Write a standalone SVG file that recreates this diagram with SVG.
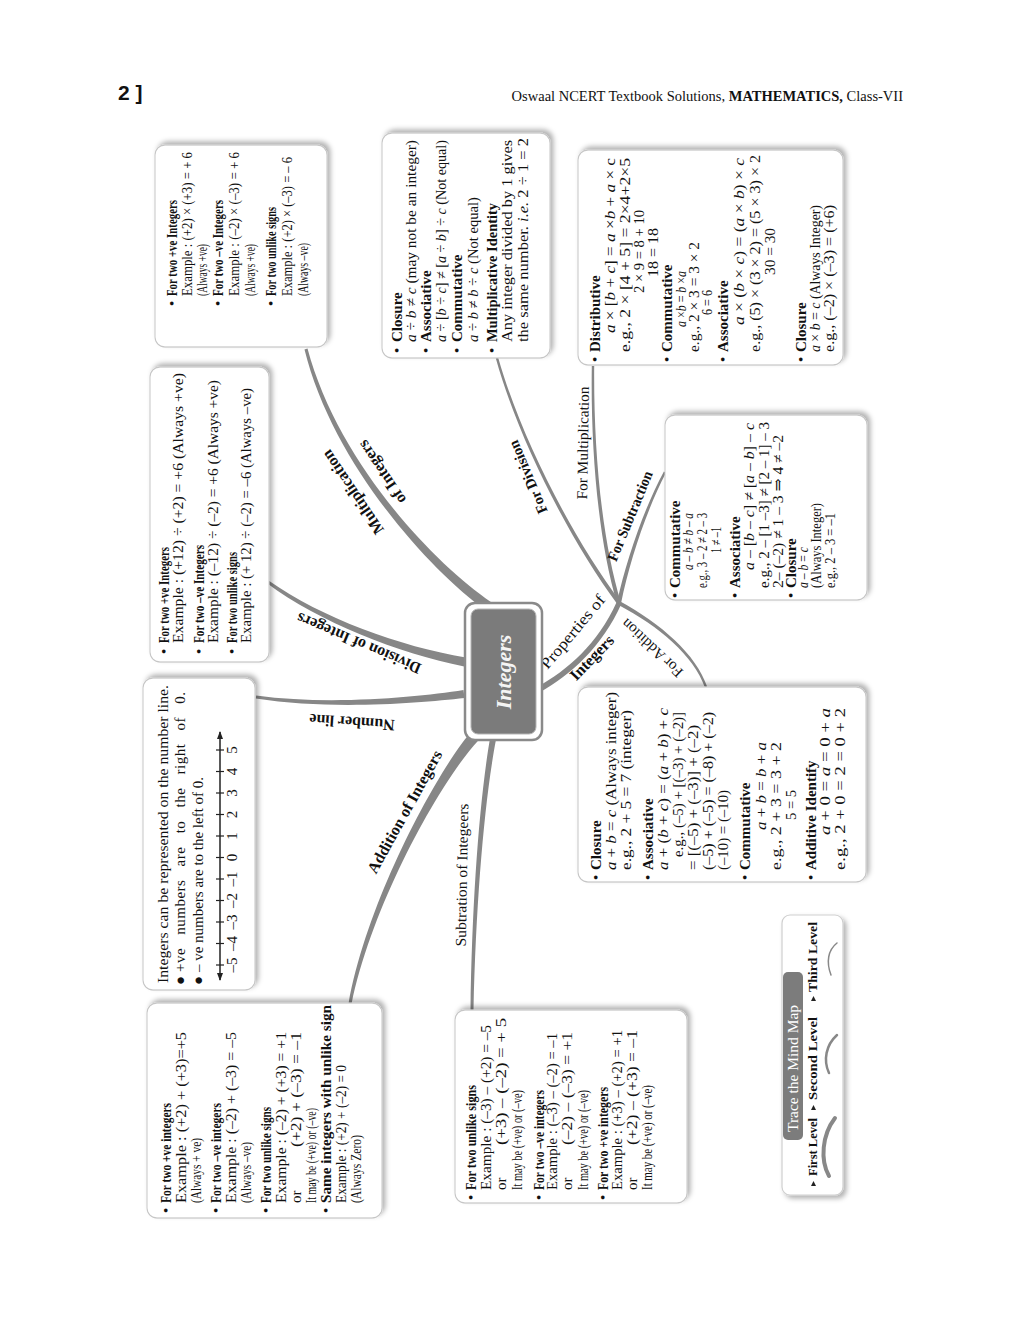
<svg xmlns="http://www.w3.org/2000/svg" width="1024" height="1321" viewBox="0 0 1024 1321">
<defs>
<style>
text{font-family:"Liberation Serif","DejaVu Serif",serif;fill:#111}
.b{font-weight:bold}
.i{font-style:italic}
.box{fill:#fff;stroke:#c6c6c6;stroke-width:1.2;filter:url(#sh)}
.con{fill:#878787}
.lbl{font-weight:bold;font-size:16px;text-anchor:middle}
.lr{font-size:15px;text-anchor:middle}
.f13 text{font-size:15px}
.f135 text{font-size:15px}
.f14 text{font-size:15px}
</style>
<filter id="sh" x="-10%" y="-10%" width="125%" height="125%"><feDropShadow dx="3" dy="3" stdDeviation="2.5" flood-color="#000" flood-opacity="0.3"/></filter>
<marker id="arr" viewBox="0 0 8 6" refX="7" refY="3" markerWidth="8" markerHeight="6" markerUnits="userSpaceOnUse" orient="auto-start-reverse"><path d="M0,0 L8,3 L0,6 z" fill="#222"/></marker>
</defs>
<rect width="1024" height="1321" fill="#fff"/>

<g id="header">
<text x="118" y="100" style="font-family:'Liberation Sans',Arial,sans-serif;font-weight:bold;font-size:21px">2 ]</text>
<text x="903" y="101" text-anchor="end" style="font-size:14.5px">Oswaal NCERT Textbook Solutions, <tspan class="b">MATHEMATICS,</tspan> Class-VII</text>
</g>

<g id="connectors">
<path class="con" d="M490.9,601.9 C432.2,561.9 337.6,461.3 307.5,348.6 L304.5,349.4 C332.4,462.7 427.8,568.1 485.1,610.1 Z"/>
<path class="con" d="M465.8,657.6 C400.6,646.6 321.5,618 268.9,580.8 L267.1,583.2 C318.5,622 399.4,653.4 464.2,666.4 Z"/>
<path class="con" d="M463.5,690 C419.6,696.9 330.3,705.7 256.2,695.5 L255.8,698.5 C329.7,710.3 420.4,703.1 464.5,698 Z"/>
<path class="con" d="M469.9,733.3 C436.9,772.2 367.2,899.5 348.5,1003.7 L351.5,1004.3 C372.8,900.5 443.1,777.8 478.1,740.7 Z"/>
<path class="con" d="M490,738.5 C479.5,799.6 472,900 470.5,1010 L473.5,1010 C476,900 484.5,800.4 496,739.5 Z"/>
<path class="con" d="M539.5,692.6 C571.4,674.5 602.4,646.1 621.3,604 L616.7,602 C597.6,643.9 568.6,669.5 536.5,687.4 Z"/>
<path class="con" d="M620.6,601.8 C573.4,539 521.4,439.6 498.2,357.7 L495.8,358.3 C518.6,440.4 570.6,541 617.4,604.2 Z"/>
<path class="con" d="M620.9,602.4 C601.7,539.5 593.5,450 594.2,366 L591.8,366 C590.5,450 598.3,540.5 617.1,603.6 Z"/>
<path class="con" d="M621,603.4 C629.7,560.4 646.3,510.7 666.1,472.6 L663.9,471.4 C643.7,509.3 626.3,559.6 617,602.6 Z"/>
<path class="con" d="M618.1,604.8 C659.2,626.5 693.6,655.5 704.9,687.4 L707.1,686.6 C696.4,654.5 660.8,623.5 619.9,601.2 Z"/>

<text class="lbl" transform="translate(353,492) rotate(-124)" y="5">Multiplication</text>
<text class="lbl" transform="translate(382,472) rotate(-124)" y="5">of Integers</text>
<text class="lbl" transform="translate(359,643) rotate(203)" y="5">Division of Integers</text>
<text class="lbl" transform="translate(352,722) rotate(184)" y="5">Number line</text>
<text class="lbl" transform="translate(405,812) rotate(-61)" y="5">Addition of Integers</text>
<text class="lr" transform="translate(462,875) rotate(-89)" y="5" textLength="143" lengthAdjust="spacingAndGlyphs">Subtration of Integeers</text>
<text class="lr" style="font-size:16px" transform="translate(573,632) rotate(-50)" y="5" textLength="91" lengthAdjust="spacingAndGlyphs">Properties of</text>
<text class="lbl" transform="translate(592,658) rotate(-46)" y="5">Integers</text>
<text class="lbl" style="font-size:15px" transform="translate(528,477) rotate(-113)" y="5" textLength="78" lengthAdjust="spacingAndGlyphs">For Division</text>
<text class="lr" transform="translate(583,443) rotate(-89)" y="5" textLength="113" lengthAdjust="spacingAndGlyphs">For Multiplication</text>
<text class="lbl" style="font-size:15px" transform="translate(630,516) rotate(-67.5)" y="5" textLength="96" lengthAdjust="spacingAndGlyphs">For Subtraction</text>
<text class="lr" transform="translate(652,648) rotate(223)" y="5" textLength="78" lengthAdjust="spacingAndGlyphs">For Addition</text>
</g>

<g id="center">
<rect x="465" y="603" width="77" height="137" rx="10" fill="#fff" stroke="#8a8a8a" stroke-width="2.5"/>
<rect x="471" y="609" width="65" height="125" rx="7" fill="#7b7b7b" stroke="#b5b5b5" stroke-width="1"/>
<text transform="translate(504,672) rotate(-90)" y="7" text-anchor="middle" style="font-size:22px;font-weight:bold;font-style:italic;fill:#f4f4f4">Integers</text>
</g>

<g id="mult-examples" class="f13" transform="translate(155,347) rotate(-90)">
<rect class="box" x="0" y="0" width="202" height="172" rx="10"/>
<text x="41" y="22">•</text><text x="51" y="22" class="b" textLength="96" lengthAdjust="spacingAndGlyphs">For two +ve Integers</text>
<text x="51" y="37" textLength="144" lengthAdjust="spacingAndGlyphs">Example : (+2) × (+3) = + 6</text>
<text x="51" y="52" textLength="52" lengthAdjust="spacingAndGlyphs">(Always +ve)</text>
<text x="41" y="68">•</text><text x="51" y="68" class="b" textLength="96" lengthAdjust="spacingAndGlyphs">For two –ve Integers</text>
<text x="51" y="84" textLength="144" lengthAdjust="spacingAndGlyphs">Example : (–2) × (–3) = + 6</text>
<text x="51" y="100" textLength="52" lengthAdjust="spacingAndGlyphs">(Always +ve)</text>
<text x="41" y="121">•</text><text x="51" y="121" class="b" textLength="89" lengthAdjust="spacingAndGlyphs">For two unlike signs</text>
<text x="51" y="137" textLength="139" lengthAdjust="spacingAndGlyphs">Example : (+2) × (–3) = – 6</text>
<text x="51" y="153" textLength="53" lengthAdjust="spacingAndGlyphs">(Always –ve)</text>
</g>

<g id="div-examples" class="f13" transform="translate(150,662) rotate(-90)">
<rect class="box" x="0" y="0" width="295" height="119" rx="10"/>
<text x="8" y="19">•</text><text x="19" y="19" class="b" textLength="96" lengthAdjust="spacingAndGlyphs">For two +ve Integers</text>
<text x="19" y="33" textLength="270" lengthAdjust="spacingAndGlyphs">Example : (+12) ÷ (+2)  =  +6 (Always +ve)</text>
<text x="8" y="54">•</text><text x="19" y="54" class="b" textLength="98" lengthAdjust="spacingAndGlyphs">For two –ve Integers</text>
<text x="19" y="68" textLength="263" lengthAdjust="spacingAndGlyphs">Example : (–12) ÷ (–2)  =  +6 (Always +ve)</text>
<text x="8" y="87">•</text><text x="19" y="87" class="b" textLength="91" lengthAdjust="spacingAndGlyphs">For two unlike signs</text>
<text x="19" y="101" textLength="255" lengthAdjust="spacingAndGlyphs">Example : (+ 12) ÷ (–2)  =  –6 (Always –ve)</text>
</g>

<g id="number-line" class="f135" transform="translate(143,990) rotate(-90)">
<rect class="box" x="0" y="0" width="312" height="112" rx="10"/>
<text x="7" y="25" textLength="298" lengthAdjust="spacingAndGlyphs">Integers can be represented on the number line.</text>
<text x="5" y="42">●</text><text x="18" y="42" textLength="280" lengthAdjust="spacing" word-spacing="9">+ve numbers are to the right of 0.</text>
<text x="5" y="60">●</text><text x="18" y="60" textLength="195" lengthAdjust="spacingAndGlyphs">– ve numbers are to the left of 0.</text>
<line x1="10" y1="77" x2="258" y2="77" stroke="#222" stroke-width="1.5" marker-start="url(#arr)" marker-end="url(#arr)"/>
<g stroke="#222" stroke-width="1.2">
<line x1="25" y1="73" x2="25" y2="81"/><line x1="46.5" y1="73" x2="46.5" y2="81"/><line x1="68" y1="73" x2="68" y2="81"/><line x1="89.5" y1="73" x2="89.5" y2="81"/><line x1="111" y1="73" x2="111" y2="81"/><line x1="132.5" y1="73" x2="132.5" y2="81"/><line x1="154" y1="73" x2="154" y2="81"/><line x1="175.5" y1="73" x2="175.5" y2="81"/><line x1="197" y1="73" x2="197" y2="81"/><line x1="218.5" y1="73" x2="218.5" y2="81"/><line x1="240" y1="73" x2="240" y2="81"/>
</g>
<g text-anchor="middle">
<text x="25" y="94">–5</text><text x="46.5" y="94">–4</text><text x="68" y="94">–3</text><text x="89.5" y="94">–2</text><text x="111" y="94">–1</text><text x="132.5" y="94">0</text><text x="154" y="94">1</text><text x="175.5" y="94">2</text><text x="197" y="94">3</text><text x="218.5" y="94">4</text><text x="240" y="94">5</text>
</g>
</g>

<g id="add-examples" class="f13" transform="translate(147,1218) rotate(-90)">
<rect class="box" x="0" y="0" width="215" height="235" rx="10"/>
<text x="5" y="24">•</text><text x="15" y="24" class="b" textLength="100" lengthAdjust="spacingAndGlyphs">For two +ve integers</text>
<text x="15" y="39" textLength="171" lengthAdjust="spacingAndGlyphs">Example : (+2) + (+3)=+5</text>
<text x="15" y="54" textLength="65" lengthAdjust="spacingAndGlyphs">(Always + ve)</text>
<text x="5" y="74">•</text><text x="15" y="74" class="b" textLength="100" lengthAdjust="spacingAndGlyphs">For two –ve integers</text>
<text x="15" y="89" textLength="171" lengthAdjust="spacingAndGlyphs">Example : (–2) + (–3)  =  –5</text>
<text x="15" y="104" textLength="61" lengthAdjust="spacingAndGlyphs">(Always –ve)</text>
<text x="5" y="124">•</text><text x="15" y="124" class="b" textLength="96" lengthAdjust="spacingAndGlyphs">For two unlike signs</text>
<text x="15" y="139" textLength="171" lengthAdjust="spacingAndGlyphs">Example : (–2) + (+3)  =  +1</text>
<text x="15" y="154">or</text><text x="71" y="154" textLength="115" lengthAdjust="spacingAndGlyphs">(+2) + (–3)  =  –1</text>
<text x="15" y="169" textLength="95" lengthAdjust="spacingAndGlyphs">It may be (+ve) or (–ve)</text>
<text x="5" y="184">•</text><text x="15" y="184" class="b" textLength="198" lengthAdjust="spacingAndGlyphs">Same integers with unlike sign</text>
<text x="15" y="199" textLength="138" lengthAdjust="spacingAndGlyphs">Example : (+2) + (–2) = 0</text>
<text x="15" y="214" textLength="68" lengthAdjust="spacingAndGlyphs">(Always Zero)</text>
</g>

<g id="sub-examples" class="f13" transform="translate(455,1203) rotate(-90)">
<rect class="box" x="0" y="0" width="193" height="232" rx="10"/>
<text x="3" y="21">•</text><text x="13" y="21" class="b" textLength="105" lengthAdjust="spacingAndGlyphs">For two unlike signs</text>
<text x="13" y="36" textLength="165" lengthAdjust="spacingAndGlyphs">Example : (–3) – (+2)  =  –5</text>
<text x="13" y="51">or</text><text x="58" y="51" textLength="127" lengthAdjust="spacingAndGlyphs">(+3) – (–2)  =  + 5</text>
<text x="13" y="67" textLength="100" lengthAdjust="spacingAndGlyphs">It may be (+ve) or (–ve)</text>
<text x="3" y="89">•</text><text x="13" y="89" class="b" textLength="100" lengthAdjust="spacingAndGlyphs">For two –ve integers</text>
<text x="13" y="102" textLength="157" lengthAdjust="spacingAndGlyphs">Example : (–3) – (–2) = –1</text>
<text x="13" y="117">or</text><text x="58" y="117" textLength="113" lengthAdjust="spacingAndGlyphs">(–2) – (–3)  =  +1</text>
<text x="13" y="133" textLength="100" lengthAdjust="spacingAndGlyphs">It may be (+ve) or (–ve)</text>
<text x="3" y="153">•</text><text x="13" y="153" class="b" textLength="103" lengthAdjust="spacingAndGlyphs">For two +ve integers</text>
<text x="13" y="167" textLength="160" lengthAdjust="spacingAndGlyphs">Example : (+3) – (+2)  =  +1</text>
<text x="13" y="182">or</text><text x="58" y="182" textLength="115" lengthAdjust="spacingAndGlyphs">(+2) – (+3)  =  –1</text>
<text x="13" y="197" textLength="105" lengthAdjust="spacingAndGlyphs">It may be (+ve) or (–ve)</text>
</g>

<g id="div-properties" class="f14" transform="translate(382,358) rotate(-90)">
<rect class="box" x="0" y="0" width="225" height="168" rx="10"/>
<text x="5" y="20">•</text><text x="16" y="20" class="b">Closure</text>
<text x="16" y="34" textLength="202" lengthAdjust="spacingAndGlyphs"><tspan class="i">a</tspan> ÷ <tspan class="i">b</tspan> ≠ <tspan class="i">c</tspan> (may not be an integer)</text>
<text x="5" y="49">•</text><text x="16" y="49" class="b">Associative</text>
<text x="16" y="64" textLength="202" lengthAdjust="spacingAndGlyphs"><tspan class="i">a</tspan> ÷ [<tspan class="i">b</tspan> ÷ <tspan class="i">c</tspan>] ≠ [<tspan class="i">a</tspan> ÷ <tspan class="i">b</tspan>] ÷ <tspan class="i">c</tspan> (Not equal)</text>
<text x="5" y="80">•</text><text x="16" y="80" class="b">Commutative</text>
<text x="16" y="96" textLength="145" lengthAdjust="spacingAndGlyphs"><tspan class="i">a</tspan> ÷ <tspan class="i">b</tspan> ≠ <tspan class="i">b</tspan> ÷ <tspan class="i">c</tspan> (Not equal)</text>
<text x="5" y="115">•</text><text x="16" y="115" class="b" textLength="139" lengthAdjust="spacingAndGlyphs">Multiplicative Identity</text>
<text x="16" y="130" textLength="202" lengthAdjust="spacingAndGlyphs">Any integer divided by 1 gives</text>
<text x="16" y="146" textLength="204" lengthAdjust="spacingAndGlyphs">the same number. <tspan class="i">i.e.</tspan> 2 ÷ 1 = 2</text>
</g>

<g id="mult-properties" class="f14" transform="translate(578,365) rotate(-90)">
<rect class="box" x="0" y="0" width="215" height="265" rx="10"/>
<text x="3" y="22">•</text><text x="13" y="22" class="b">Distributive</text>
<text x="32" y="37" textLength="175" lengthAdjust="spacingAndGlyphs"><tspan class="i">a</tspan> × [<tspan class="i">b</tspan> + <tspan class="i">c</tspan>] = <tspan class="i">a</tspan> ×<tspan class="i">b</tspan> + <tspan class="i">a</tspan> × c</text>
<text x="13" y="52" textLength="194" lengthAdjust="spacingAndGlyphs">e.g., 2 × [4 + 5] = 2×4+2×5</text>
<text x="72" y="66" textLength="83" lengthAdjust="spacingAndGlyphs">2 × 9 = 8 + 10</text>
<text x="88" y="80" textLength="49" lengthAdjust="spacingAndGlyphs">18 = 18</text>
<text x="3" y="94">•</text><text x="13" y="94" class="b">Commutative</text>
<text x="38" y="108" textLength="56" lengthAdjust="spacingAndGlyphs"><tspan class="i">a</tspan> ×<tspan class="i">b</tspan> = <tspan class="i">b</tspan> ×<tspan class="i">a</tspan></text>
<text x="13" y="121" textLength="110" lengthAdjust="spacingAndGlyphs">e.g., 2 × 3 = 3 × 2</text>
<text x="50" y="134" textLength="25" lengthAdjust="spacingAndGlyphs">6 = 6</text>
<text x="3" y="150">•</text><text x="13" y="150" class="b">Associative</text>
<text x="40" y="166" textLength="167" lengthAdjust="spacingAndGlyphs"><tspan class="i">a</tspan> × (<tspan class="i">b</tspan> × <tspan class="i">c</tspan>) = (<tspan class="i">a</tspan> × <tspan class="i">b</tspan>) × <tspan class="i">c</tspan></text>
<text x="13" y="182" textLength="197" lengthAdjust="spacingAndGlyphs">e.g., (5) × (3 × 2) = (5 × 3) × 2</text>
<text x="90" y="197" textLength="47" lengthAdjust="spacingAndGlyphs">30 = 30</text>
<text x="3" y="228">•</text><text x="13" y="228" class="b">Closure</text>
<text x="13" y="242" textLength="147" lengthAdjust="spacingAndGlyphs"><tspan class="i">a</tspan> × <tspan class="i">b</tspan> = <tspan class="i">c</tspan> (Always Integer)</text>
<text x="13" y="256" textLength="147" lengthAdjust="spacingAndGlyphs">e.g., (–2) × (–3) = (+6)</text>
</g>

<g id="sub-properties" class="f135" transform="translate(665,600) rotate(-90)">
<rect class="box" x="0" y="0" width="185" height="202" rx="10"/>
<text x="2" y="15">•</text><text x="12" y="15" class="b">Commutative</text>
<text x="30" y="28" textLength="57" lengthAdjust="spacingAndGlyphs"><tspan class="i">a</tspan> – <tspan class="i">b</tspan> ≠ <tspan class="i">b</tspan> – <tspan class="i">a</tspan></text>
<text x="12" y="42" textLength="75" lengthAdjust="spacingAndGlyphs">e.g., 3 – 2 ≠ 2 – 3</text>
<text x="47" y="56" textLength="26" lengthAdjust="spacingAndGlyphs">1 ≠ –1</text>
<text x="2" y="75">•</text><text x="12" y="75" class="b">Associative</text>
<text x="30" y="89" textLength="147" lengthAdjust="spacingAndGlyphs"><tspan class="i">a</tspan> – [<tspan class="i">b</tspan> – <tspan class="i">c</tspan>] ≠ [<tspan class="i">a</tspan> – <tspan class="i">b</tspan>] – <tspan class="i">c</tspan></text>
<text x="12" y="104" textLength="166" lengthAdjust="spacingAndGlyphs">e.g., 2 – [1 –3] ≠ [2 – 1] – 3</text>
<text x="12" y="118" textLength="153" lengthAdjust="spacingAndGlyphs">2– (–2) ≠ 1 – 3 ⇒ 4 ≠ –2</text>
<text x="2" y="131">•</text><text x="12" y="131" class="b">Closure</text>
<text x="12" y="143" textLength="41" lengthAdjust="spacingAndGlyphs"><tspan class="i">a</tspan> – <tspan class="i">b</tspan> = <tspan class="i">c</tspan></text>
<text x="12" y="156" textLength="85" lengthAdjust="spacingAndGlyphs">(Always Integer)</text>
<text x="12" y="170" textLength="75" lengthAdjust="spacingAndGlyphs">e.g., 2 – 3 = –1</text>
</g>

<g id="add-properties" class="f14" transform="translate(578,882) rotate(-90)">
<rect class="box" x="0" y="0" width="195" height="288" rx="10"/>
<text x="2" y="23">•</text><text x="12" y="23" class="b">Closure</text>
<text x="12" y="38" textLength="178" lengthAdjust="spacingAndGlyphs"><tspan class="i">a</tspan> + <tspan class="i">b</tspan> = <tspan class="i">c</tspan> (Always integer)</text>
<text x="12" y="53" textLength="160" lengthAdjust="spacingAndGlyphs">e.g., 2 + 5 = 7 (integer)</text>
<text x="2" y="75">•</text><text x="12" y="75" class="b">Associative</text>
<text x="12" y="90" textLength="162" lengthAdjust="spacingAndGlyphs"><tspan class="i">a</tspan> + (<tspan class="i">b</tspan> + <tspan class="i">c</tspan>) = (<tspan class="i">a</tspan> + <tspan class="i">b</tspan>) + <tspan class="i">c</tspan></text>
<text x="25" y="105" textLength="145" lengthAdjust="spacingAndGlyphs">e.g., (–5) + [(–3) + (–2)]</text>
<text x="12" y="120" textLength="145" lengthAdjust="spacingAndGlyphs">= [(–5) + (–3)] + (–2)</text>
<text x="12" y="135" textLength="158" lengthAdjust="spacingAndGlyphs">(–5) + (–5) = (–8) + (–2)</text>
<text x="12" y="150" textLength="80" lengthAdjust="spacingAndGlyphs">(–10) = (–10)</text>
<text x="2" y="172">•</text><text x="12" y="172" class="b">Commutative</text>
<text x="52" y="188" textLength="88" lengthAdjust="spacingAndGlyphs"><tspan class="i">a</tspan> + <tspan class="i">b</tspan> = <tspan class="i">b</tspan> + <tspan class="i">a</tspan></text>
<text x="12" y="203" textLength="128" lengthAdjust="spacingAndGlyphs">e.g., 2 + 3 = 3 + 2</text>
<text x="62" y="218" textLength="30" lengthAdjust="spacingAndGlyphs">5 = 5</text>
<text x="2" y="238">•</text><text x="12" y="238" class="b">Additive Identify</text>
<text x="47" y="252" textLength="127" lengthAdjust="spacingAndGlyphs"><tspan class="i">a</tspan> + 0 = <tspan class="i">a</tspan> = 0 + <tspan class="i">a</tspan></text>
<text x="12" y="267" textLength="162" lengthAdjust="spacingAndGlyphs">e.g., 2 + 0 = 2 = 0 + 2</text>
</g>

<g id="legend">
<rect x="782" y="915" width="61" height="280" rx="8" fill="#fff" stroke="#cfcfcf" stroke-width="1.2" filter="url(#sh)"/>
<rect x="783" y="972" width="20" height="168" rx="5" fill="#7c7c7c"/>
<text transform="translate(798,1132) rotate(-90)" style="font-size:14px;fill:#fff" textLength="127" lengthAdjust="spacingAndGlyphs">Trace the  Mind Map</text>
<g transform="translate(817,1186) rotate(-90)">
<polygon points="0,-6 0,-1 5,-3.5" fill="#222"/>
<text x="10" y="0" class="b" style="font-size:12.5px" textLength="58" lengthAdjust="spacingAndGlyphs">First Level</text>
</g>
<g transform="translate(817,1110) rotate(-90)">
<polygon points="0,-6 0,-1 5,-3.5" fill="#222"/>
<text x="10" y="0" class="b" style="font-size:12.5px" textLength="83" lengthAdjust="spacingAndGlyphs">Second Level</text>
</g>
<g transform="translate(817,1001) rotate(-90)">
<polygon points="0,-6 0,-1 5,-3.5" fill="#222"/>
<text x="9" y="0" class="b" style="font-size:12.5px" textLength="70" lengthAdjust="spacingAndGlyphs">Third Level</text>
</g>
<path d="M835,1118 C822,1135 820,1160 829,1176" fill="none" stroke="#888" stroke-width="4" stroke-linecap="round"/>
<path d="M837,1035 C826,1045 823,1060 829,1073" fill="none" stroke="#888" stroke-width="2.5" stroke-linecap="round"/>
<path d="M837,943 C828,950 826,962 831,975" fill="none" stroke="#888" stroke-width="1.5" stroke-linecap="round"/>
</g>
</svg>
